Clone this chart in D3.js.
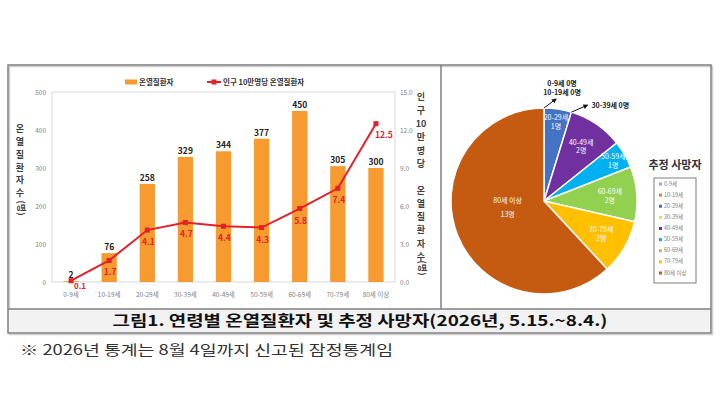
<!DOCTYPE html>
<html>
<head>
<meta charset="utf-8">
<script src="https://cdn.jsdelivr.net/npm/d3@7"></script>
<style>
  body { margin: 0; background: #fff; }
  text { font-family: "Noto Sans CJK KR", "Noto Sans", sans-serif; }
</style>
</head>
<body>
<svg id="chart" width="720" height="415"></svg>
<script>
// 연령대별 데이터
const ageGroups = ["0-9세", "10-19세", "20-29세", "30-39세", "40-49세", "50-59세", "60-69세", "70-79세", "80세 이상"];
const patients = [2, 76, 258, 329, 344, 377, 450, 305, 300];
const ratePer100k = [0.1, 1.7, 4.1, 4.7, 4.4, 4.3, 5.8, 7.4, 12.5];
const deaths = [0, 0, 1, 0, 2, 1, 2, 2, 13];
const leftTicks = [0, 100, 200, 300, 400, 500];
const rightTicks = [0, 3, 6, 9, 12, 15];
const pieColors = ["#8faadc", "#ed7d31", "#4472c4", "#ffd34d", "#7030a0", "#00b0f0", "#92d050", "#ffc000", "#c55a11"];

const barColor = "#f79a30";
const lineColor = "#e4202a";

const svg = d3.select("#chart");

// 바깥 테두리
svg.append("rect").attr("x", 9.5).attr("y", 66.5).attr("width", 703).attr("height", 268)
    .attr("fill", "none").attr("stroke", "#d0d0d0").attr("stroke-width", 1.5);
svg.append("rect").attr("x", 8).attr("y", 309).attr("width", 703).attr("height", 24)
    .attr("fill", "#f2f2f2");
svg.append("rect").attr("x", 8).attr("y", 65).attr("width", 703).attr("height", 268)
    .attr("fill", "none").attr("stroke", "#7f7f7f").attr("stroke-width", 1.5);
svg.append("line").attr("x1", 8).attr("x2", 711).attr("y1", 309).attr("y2", 309)
    .attr("stroke", "#7f7f7f").attr("stroke-width", 1.5);
svg.append("line").attr("x1", 441).attr("x2", 441).attr("y1", 65).attr("y2", 309)
    .attr("stroke", "#7f7f7f").attr("stroke-width", 1.5);

// ---------- 왼쪽: 막대 + 꺾은선 ----------
const plot = { left: 52, right: 395, top: 92, bottom: 282 };

const x = d3.scaleBand()
    .domain(ageGroups)
    .range([plot.left, plot.right])
    .paddingInner(0.6)
    .paddingOuter(0.3);

const yLeft = d3.scaleLinear().domain([0, 500]).range([plot.bottom, plot.top]);
const yRight = d3.scaleLinear().domain([0, 15]).range([plot.bottom, plot.top]);

svg.append("rect")
    .attr("x", plot.left).attr("y", plot.top)
    .attr("width", plot.right - plot.left).attr("height", plot.bottom - plot.top)
    .attr("fill", "none").attr("stroke", "#d9d9d9").attr("stroke-width", 1);

function styleAxis(g) {
    g.select(".domain").remove();
    g.selectAll("text").attr("fill", "#7f7f7f").style("font-size", "6.5px")
        .style("font-family", "\"Noto Sans CJK KR\", sans-serif");
}

svg.append("g")
    .attr("transform", `translate(${plot.left},0)`)
    .call(d3.axisLeft(yLeft).tickValues(leftTicks).tickSize(0).tickPadding(6))
    .call(styleAxis);

svg.append("g")
    .attr("transform", `translate(${plot.right},0)`)
    .call(d3.axisRight(yRight).tickValues(rightTicks).tickSize(0).tickPadding(5).tickFormat(d3.format(".1f")))
    .call(styleAxis);

svg.append("g")
    .attr("transform", `translate(0,${plot.bottom})`)
    .call(d3.axisBottom(x).tickSize(0).tickPadding(10))
    .call(styleAxis);

const barData = ageGroups.map((g, i) => ({ group: g, value: patients[i], rate: ratePer100k[i] }));

svg.append("g").selectAll("rect")
    .data(barData)
    .join("rect")
    .attr("x", d => x(d.group))
    .attr("y", d => yLeft(d.value))
    .attr("width", x.bandwidth())
    .attr("height", d => plot.bottom - yLeft(d.value))
    .attr("fill", barColor);

svg.append("g").selectAll("text")
    .data(barData)
    .join("text")
    .attr("x", d => x(d.group) + x.bandwidth() / 2)
    .attr("y", d => yLeft(d.value) - 3)
    .attr("text-anchor", "middle")
    .attr("fill", "#222")
    .style("font-size", "8.5px")
    .style("font-weight", "bold")
    .text(d => d.value);

const cx = d => x(d.group) + x.bandwidth() / 2;

svg.append("path")
    .datum(barData)
    .attr("fill", "none")
    .attr("stroke", lineColor)
    .attr("stroke-width", 2)
    .attr("d", d3.line().x(cx).y(d => yRight(d.rate)));

svg.append("g").selectAll("rect")
    .data(barData)
    .join("rect")
    .attr("x", d => cx(d) - 2.5)
    .attr("y", d => yRight(d.rate) - 2.5)
    .attr("width", 5).attr("height", 5)
    .attr("fill", lineColor);

const lastIdx = barData.length - 1;
svg.append("g").selectAll("text")
    .data(barData)
    .join("text")
    .attr("x", (d, i) => cx(d) + (i === 0 ? 9 : i === lastIdx ? 8 : 1))
    .attr("y", (d, i) => yRight(d.rate) + (i === 0 ? 8.5 : i === lastIdx ? 14 : 15))
    .attr("text-anchor", "middle")
    .attr("fill", lineColor)
    .style("font-size", (d, i) => i === 0 ? "8px" : "8.5px")
    .style("font-weight", "bold")
    .text(d => d3.format(".1f")(d.rate));

// 범례
svg.append("rect").attr("x", 125).attr("y", 79.5).attr("width", 12).attr("height", 5).attr("fill", barColor);
svg.append("text").attr("x", 139).attr("y", 85).attr("fill", "#333")
    .style("font-size", "7.5px").style("font-weight", "bold").text("온열질환자");
svg.append("line").attr("x1", 207).attr("x2", 221).attr("y1", 82).attr("y2", 82)
    .attr("stroke", lineColor).attr("stroke-width", 2);
svg.append("rect").attr("x", 211.5).attr("y", 79.5).attr("width", 5).attr("height", 5).attr("fill", lineColor);
svg.append("text").attr("x", 223).attr("y", 85).attr("fill", "#333")
    .style("font-size", "7.5px").style("font-weight", "bold").text("인구 10만명당 온열질환자");

// 세로 축 제목 (글자를 세로로 쌓음)
function stackedTitle(xPos, chars, yStart, step) {
    const g = svg.append("g");
    chars.forEach((c, i) => {
        if (c === "") return;
        g.append("text")
            .attr("x", xPos)
            .attr("y", yStart + i * step)
            .attr("text-anchor", "middle")
            .attr("dominant-baseline", "middle")
            .attr("fill", "#404040")
            .style("font-size", "9px")
            .style("font-weight", "bold")
            .text(c);
    });
    return g;
}
function rotatedUnit(xPos, yPos) {
    svg.append("text")
        .attr("transform", `translate(${xPos},${yPos}) rotate(90)`)
        .attr("text-anchor", "middle")
        .attr("dominant-baseline", "middle")
        .attr("fill", "#404040")
        .style("font-size", "9px")
        .style("font-weight", "bold")
        .text("(명)");
}
stackedTitle(20, ["온", "열", "질", "환", "자", "수"], 130, 12.7);
rotatedUnit(20, 208);
stackedTitle(421, ["인", "구", "10", "만", "명", "당", "", "온", "열", "질", "환", "자", "수"], 98, 13.3);
rotatedUnit(421, 268);

// ---------- 오른쪽: 추정 사망자 파이 ----------
const pieCenter = [544, 201];
const radius = 93;

const pieData = ageGroups.map((g, i) => ({ group: g, value: deaths[i], color: pieColors[i] }));
const arcs = d3.pie().sort(null).value(d => d.value)(pieData);
const arc = d3.arc().innerRadius(0).outerRadius(radius);

const pieG = svg.append("g").attr("transform", `translate(${pieCenter[0]},${pieCenter[1]})`);

pieG.selectAll("path")
    .data(arcs.filter(a => a.data.value > 0))
    .join("path")
    .attr("d", arc)
    .attr("fill", a => a.data.color)
    .attr("stroke", "#fff")
    .attr("stroke-width", 1.5);

function labelRadius(a) {
    if (a.data.value >= 10) return radius * 0.42;
    return (a.endAngle - a.startAngle) < 0.35 ? radius * 0.86 : radius * 0.71;
}

arcs.filter(a => a.data.value > 0).forEach(a => {
    const r = labelRadius(a);
    const [lx, ly] = d3.arc().innerRadius(r).outerRadius(r).centroid(a);
    const big = a.data.value >= 10;
    const t = pieG.append("text")
        .attr("x", lx).attr("y", big ? ly - 12.5 : ly)
        .attr("text-anchor", "middle")
        .attr("fill", "#fff")
        .style("font-size", "7px");
    t.append("tspan").attr("x", lx).attr("dy", big ? "0" : "-0.25em").text(a.data.group);
    t.append("tspan").attr("x", lx).attr("dy", big ? "2em" : "1.25em").text(a.data.value + "명");
});

// 0명 구간: 화살표와 바깥 라벨
svg.append("defs").append("marker")
    .attr("id", "arrow")
    .attr("viewBox", "0 0 10 10")
    .attr("refX", 8).attr("refY", 5)
    .attr("markerWidth", 5).attr("markerHeight", 5)
    .attr("orient", "auto")
    .append("path").attr("d", "M0,0L10,5L0,10Z").attr("fill", "#111");

const zeroGroups = d3.groups(arcs.filter(a => a.data.value === 0), a => a.startAngle);
zeroGroups.forEach(([angle, list]) => {
    const sx = radius * Math.sin(angle), sy = -radius * Math.cos(angle);
    const pair = list.length > 1;
    const ex = sx + (pair ? 12 : 16), ey = sy - (pair ? 9 : 7);
    pieG.append("line")
        .attr("x1", sx).attr("y1", sy).attr("x2", ex).attr("y2", ey)
        .attr("stroke", "#111").attr("stroke-width", 1)
        .attr("marker-end", "url(#arrow)");
    list.forEach((a, i) => {
        pieG.append("text")
            .attr("x", pair ? ex + 6 : ex + 4)
            .attr("y", pair ? ey - 13 + i * 9 : ey + 3)
            .attr("text-anchor", pair ? "middle" : "start")
            .attr("fill", "#222")
            .style("font-size", "7px")
            .style("font-weight", "bold")
            .text(`${a.data.group} ${a.data.value}명`);
    });
});

// 파이 범례
svg.append("text").attr("x", 675).attr("y", 169)
    .attr("text-anchor", "middle").attr("fill", "#333")
    .style("font-size", "11px").style("font-weight", "bold").text("추정 사망자");

svg.append("rect").attr("x", 654).attr("y", 178).attr("width", 42).attr("height", 105)
    .attr("fill", "#fff").attr("stroke", "#7f7f7f").attr("stroke-width", 1);

const legendY = d3.scalePoint().domain(ageGroups).range([184, 273]);
const legendG = svg.append("g");
legendG.selectAll("rect")
    .data(pieData)
    .join("rect")
    .attr("x", 659).attr("y", d => legendY(d.group) - 1.5)
    .attr("width", 3).attr("height", 3)
    .attr("fill", d => d.color);
legendG.selectAll("text")
    .data(pieData)
    .join("text")
    .attr("x", 664).attr("y", d => legendY(d.group))
    .attr("dominant-baseline", "middle")
    .attr("fill", "#7f7f7f")
    .style("font-size", "5.5px")
    .text(d => d.group);

// ---------- 제목 및 주석 ----------
svg.append("text")
    .attr("x", 360).attr("y", 322)
    .attr("text-anchor", "middle")
    .attr("dominant-baseline", "middle")
    .attr("fill", "#111")
    .attr("textLength", 495)
    .attr("lengthAdjust", "spacingAndGlyphs")
    .style("font-size", "15px")
    .style("font-weight", "bold")
    .text("그림1. 연령별 온열질환자 및 추정 사망자(2026년, 5.15.~8.4.)");

svg.append("text")
    .attr("x", 20).attr("y", 351)
    .attr("dominant-baseline", "middle")
    .attr("fill", "#333")
    .attr("textLength", 373)
    .attr("lengthAdjust", "spacingAndGlyphs")
    .style("font-size", "14px")
    .text("※ 2026년 통계는 8월 4일까지 신고된 잠정통계임");
</script>
</body>
</html>
